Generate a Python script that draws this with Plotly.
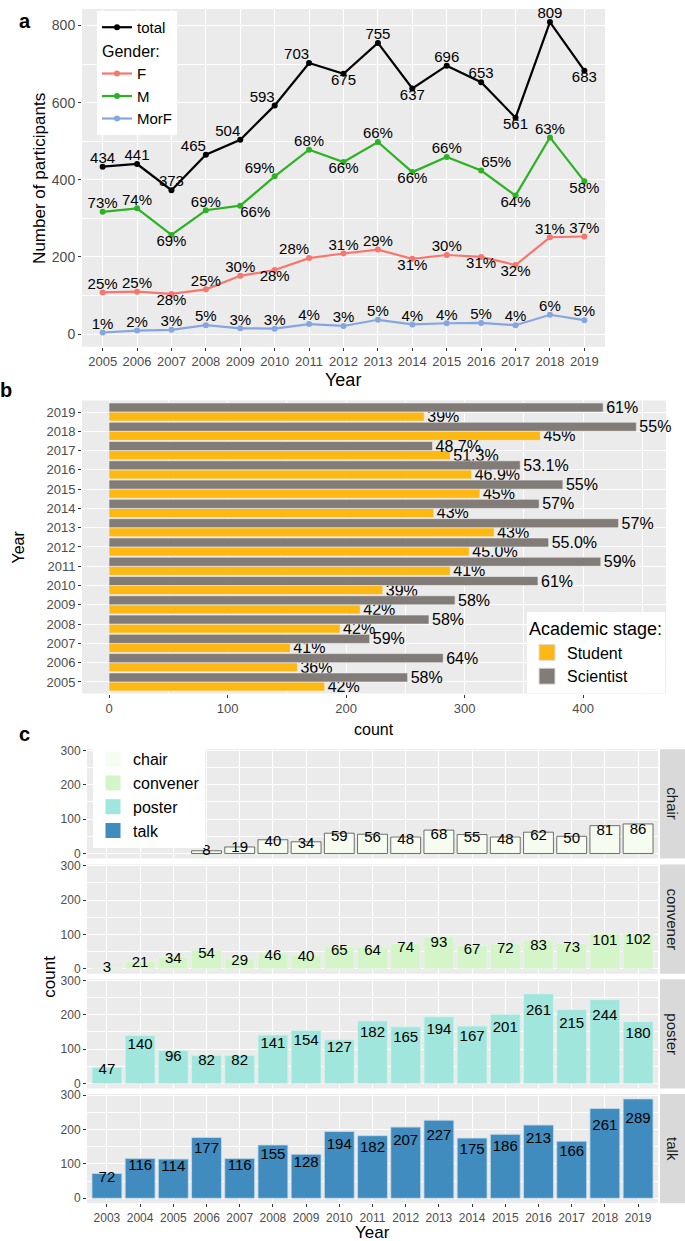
import plotly.graph_objects as go

W, H = 685, 1241

# ---------------- data ----------------
years_a = list(range(2005, 2020))
total = [434, 441, 373, 465, 504, 593, 703, 675, 755, 637, 696, 653, 561, 809, 683]
male = [317, 326, 257, 321, 333, 409, 478, 446, 498, 420, 459, 424, 359, 510, 396]
female = [108, 110, 104, 116, 151, 166, 197, 209, 219, 195, 205, 200, 179, 251, 253]
morf = [4, 9, 11, 23, 15, 14, 26, 21, 37, 25, 28, 29, 23, 50, 36]
male_pct = ["73%", "74%", "69%", "69%", "66%", "69%", "68%", "66%", "66%", "66%", "66%", "65%", "64%", "63%", "58%"]
female_pct = ["25%", "25%", "28%", "25%", "30%", "28%", "28%", "31%", "29%", "31%", "30%", "31%", "32%", "31%", "37%"]
morf_pct = ["1%", "2%", "3%", "5%", "3%", "3%", "4%", "3%", "5%", "4%", "4%", "5%", "4%", "6%", "5%"]

years_b = [str(y) for y in range(2005, 2020)]
student = [182, 159, 153, 195, 212, 231, 288, 304, 325, 274, 313, 306, 288, 364, 266]
scientist = [252, 282, 220, 270, 292, 362, 415, 371, 430, 363, 383, 347, 273, 445, 417]
student_pct = ["42%", "36%", "41%", "42%", "42%", "39%", "41%", "45.0%", "43%", "43%", "45%", "46.9%", "51.3%", "45%", "39%"]
scientist_pct = ["58%", "64%", "59%", "58%", "58%", "61%", "59%", "55.0%", "57%", "57%", "55%", "53.1%", "48.7%", "55%", "61%"]

years_c = list(range(2003, 2020))
chair_years = list(range(2006, 2020))
chair = [8, 19, 40, 34, 59, 56, 48, 68, 55, 48, 62, 50, 81, 86]
convener = [3, 21, 34, 54, 29, 46, 40, 65, 64, 74, 93, 67, 72, 83, 73, 101, 102]
poster = [47, 140, 96, 82, 82, 141, 154, 127, 182, 165, 194, 167, 201, 261, 215, 244, 180]
talk = [72, 116, 114, 177, 116, 155, 128, 194, 182, 207, 227, 175, 186, 213, 166, 261, 289]

# ---------------- style ----------------
FONT = "Liberation Sans, Arial, sans-serif"
C_TOTAL, C_F, C_M, C_MORF = "#000000", "#F8766D", "#2DB224", "#86A6E0"
C_STU, C_SCI = "#FDB813", "#827C78"
C_CHAIR, C_CONV, C_POST, C_TALK = "#F7FCF0", "#D4F5C8", "#A0E6DC", "#408CBE"


def fx(p):
    return p / W


def fy(p):
    return 1 - p / H


fig = go.Figure()

# ---------------- panel a ----------------
pos_total = ["top center", "top center", "top center", "top left", "top left", "top left", "top left",
             "bottom center", "top center", "bottom center", "top center", "top center", "bottom center",
             "top center", "bottom center"]
pos_m = ["top center", "top center", "bottom center", "top center", "bottom right", "top left", "top center",
         "bottom center", "top center", "bottom center", "top center", "top right", "bottom center",
         "top center", "bottom center"]
pos_f = ["top center", "top center", "bottom center", "top center", "top center", "bottom center", "top left",
         "top center", "top center", "bottom center", "top center", "bottom center", "bottom center",
         "top center", "top center"]
pos_morf = ["top center"] * 15

series_a = [
    ("total", total, [str(v) for v in total], pos_total, C_TOTAL, "total", None),
    ("F", female, female_pct, pos_f, C_F, "gender", "Gender:"),
    ("M", male, male_pct, pos_m, C_M, "gender", "Gender:"),
    ("MorF", morf, morf_pct, pos_morf, C_MORF, "gender", "Gender:"),
]
for name, vals, txt, pos, col, grp, gtitle in series_a:
    kw = dict(legendgrouptitle=dict(text=gtitle, font=dict(size=16, color="black"))) if gtitle else {}
    fig.add_trace(go.Scatter(x=years_a, y=vals, mode="lines+markers", name=name,
                             line=dict(color=col, width=2.2), marker=dict(color=col, size=6),
                             legend="legend", legendgroup=grp, xaxis="x", yaxis="y", **kw))
for name, vals, txt, pos, col, grp, gtitle in series_a:
    fig.add_trace(go.Scatter(x=years_a, y=vals, mode="text", text=txt, textposition=pos,
                             textfont=dict(size=15, color="black", family=FONT),
                             showlegend=False, cliponaxis=False, hoverinfo="skip",
                             xaxis="x", yaxis="y"))

# ---------------- panel b ----------------
fig.add_trace(go.Bar(y=years_b, x=student, orientation="h", name="Student", marker=dict(color=C_STU,
                     line=dict(color="#F2F2F2", width=0.6)), text=student_pct, textposition="outside",
                     textfont=dict(size=16, color="black", family=FONT), cliponaxis=False,
                     constraintext="none", showlegend=False, xaxis="x2", yaxis="y2"))
fig.add_trace(go.Bar(y=years_b, x=scientist, orientation="h", name="Scientist", marker=dict(color=C_SCI,
                     line=dict(color="#F2F2F2", width=0.6)), text=scientist_pct, textposition="outside",
                     textfont=dict(size=16, color="black", family=FONT), cliponaxis=False,
                     constraintext="none", showlegend=False, xaxis="x2", yaxis="y2"))
for name, col in [("Student", C_STU), ("Scientist", C_SCI)]:
    fig.add_trace(go.Scatter(x=[None], y=[None], mode="markers", name=name,
                             marker=dict(symbol="square", size=16, color=col, line=dict(color="#DDDDDD", width=1)),
                             legend="legend2", xaxis="x2", yaxis="y2"))

# ---------------- panel c ----------------
facets = [
    ("chair", chair_years, chair, C_CHAIR, "#4D4D4D", "x3", "y3"),
    ("convener", years_c, convener, C_CONV, "#E8F5E2", "x4", "y4"),
    ("poster", years_c, poster, C_POST, "#D8F3EE", "x5", "y5"),
    ("talk", years_c, talk, C_TALK, "#C8DCEA", "x6", "y6"),
]
for name, xs, vals, col, lc, xa, ya in facets:
    fig.add_trace(go.Bar(x=xs, y=vals, width=0.9, marker=dict(color=col, line=dict(color=lc, width=0.8)),
                         showlegend=False, xaxis=xa, yaxis=ya, hoverinfo="skip"))
    fig.add_trace(go.Scatter(x=xs, y=[v * 0.8 for v in vals], mode="text", text=[str(v) for v in vals],
                             textposition="middle center", textfont=dict(size=15, color="black", family=FONT),
                             showlegend=False, cliponaxis=False, xaxis=xa, yaxis=ya, hoverinfo="skip"))
for name, xs, vals, col, lc, xa, ya in facets:
    fig.add_trace(go.Scatter(x=[None], y=[None], mode="markers", name=name,
                             marker=dict(symbol="square", size=16, color=col,
                                         line=dict(color="#FFFFFF", width=1)),
                             legend="legend3", xaxis=xa, yaxis=ya))

# ---------------- axes ----------------
tickfont = dict(size=13, color="#4D4D4D", family=FONT)
common = dict(showgrid=True, gridcolor="white", gridwidth=1.4, zeroline=False, showline=False,
              ticks="outside", ticklen=3, tickwidth=1, tickcolor="#333333", tickfont=tickfont)

layout_axes = {}
layout_axes["xaxis"] = dict(common, domain=[fx(82), fx(605)], anchor="y", range=[2004.4, 2019.6],
                            tickmode="array", tickvals=years_a, ticktext=[str(y) for y in years_a],
                            tickfont=dict(size=13, color="#4D4D4D", family=FONT))
layout_axes["yaxis"] = dict(common, domain=[fy(343), fy(3)], anchor="x", range=[-33, 843],
                            tickvals=[0, 200, 400, 600, 800],
                            tickfont=dict(size=14, color="#4D4D4D", family=FONT),
                            minor=dict(tickvals=[100, 300, 500, 700], gridcolor="white", gridwidth=0.7, ticks=""))

layout_axes["xaxis2"] = dict(common, domain=[fx(82), fx(666)], anchor="y2", range=[-22.8, 470],
                             tickvals=[0, 100, 200, 300, 400],
                             minor=dict(tickvals=[50, 150, 250, 350, 450], gridcolor="white", gridwidth=0.7, ticks=""))
layout_axes["yaxis2"] = dict(common, domain=[fy(692), fy(397)], anchor="x2", type="category",
                             categoryorder="array", categoryarray=years_b, range=[-0.6, 14.6],
                             tickfont=dict(size=13, color="#4D4D4D", family=FONT))

facet_px = [(748, 858), (864, 974), (979.5, 1089.5), (1095, 1205)]
for i, (top, bot) in enumerate(facet_px):
    n = i + 3
    xa = dict(common, domain=[fx(87), fx(658)], anchor=f"y{n}", range=[2002.4, 2019.6],
              tickmode="array", tickvals=years_c, ticktext=[str(y) for y in years_c],
              tickfont=dict(size=12, color="#4D4D4D", family=FONT))
    if n != 6:
        xa.update(showticklabels=False, ticks="", matches="x6")
    layout_axes[f"xaxis{n}"] = xa
    layout_axes[f"yaxis{n}"] = dict(common, domain=[fy(bot), fy(top)], anchor=f"x{n}",
                                    range=[-14.45, 303.45], tickvals=[0, 100, 200, 300],
                                    tickfont=dict(size=12, color="#4D4D4D", family=FONT),
                                    minor=dict(tickvals=[50, 150, 250], gridcolor="white", gridwidth=0.7, ticks=""))

# ---------------- strips, annotations ----------------
shapes = []
annotations = []
for (name, *_), (top, bot) in zip(facets, facet_px):
    shapes.append(dict(type="rect", xref="paper", yref="paper", x0=fx(660), x1=1.0, y0=fy(bot), y1=fy(top),
                       fillcolor="#D9D9D9", line=dict(width=0), layer="below"))
    annotations.append(dict(text=name, xref="paper", yref="paper", x=fx(672.5), y=fy((top + bot) / 2),
                            textangle=90, showarrow=False, xanchor="center", yanchor="middle",
                            font=dict(size=15, color="#1A1A1A", family=FONT)))


def label(text, x, y, size, angle=0, bold=False, color="black"):
    annotations.append(dict(text=f"<b>{text}</b>" if bold else text, xref="paper", yref="paper",
                            x=fx(x), y=fy(y), textangle=angle, showarrow=False,
                            xanchor="center", yanchor="middle", font=dict(size=size, color=color, family=FONT)))


label("a", 25, 15, 20, bold=True)
label("b", 6, 386, 20, bold=True)
label("c", 25, 733, 20, bold=True)
label("Number of participants", 40, 174, 17, angle=-90)
label("Year", 343, 376, 18)
label("Year", 18, 545, 16, angle=-90)
label("count", 374, 728, 16)
label("count", 50, 977, 17, angle=-90)
label("Year", 372, 1234.5, 17)

fig.update_layout(
    width=W, height=H, autosize=False,
    margin=dict(l=0, r=0, t=0, b=0),
    paper_bgcolor="white", plot_bgcolor="#EBEBEB",
    font=dict(family=FONT, color="black"),
    barmode="group", bargap=0.06, bargroupgap=0,
    shapes=shapes, annotations=annotations,
    legend=dict(x=fx(97), y=fy(5), xanchor="left", yanchor="top", bgcolor="white",
                font=dict(size=15, color="black"), tracegroupgap=0, itemwidth=30),
    legend2=dict(x=fx(665), y=fy(610), xanchor="right", yanchor="top", bgcolor="white",
                 title=dict(text="Academic stage:", font=dict(size=18, color="black")),
                 font=dict(size=16, color="black"), itemwidth=30),
    legend3=dict(x=fx(93), y=fy(741), xanchor="left", yanchor="top", bgcolor="white",
                 font=dict(size=16, color="black"), itemwidth=30, tracegroupgap=0),
    **layout_axes,
)

fig.write_html("out.html", config={"displayModeBar": False},
               post_script="document.body.style.margin='0';")
